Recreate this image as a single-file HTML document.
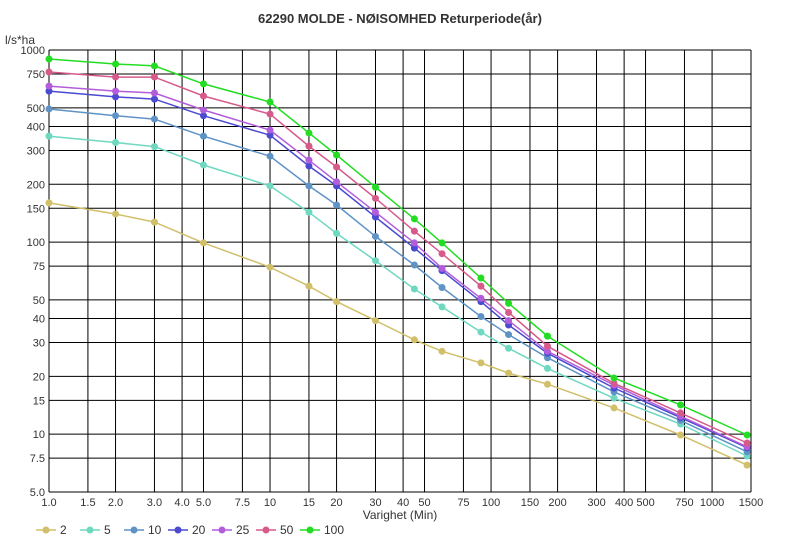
<!DOCTYPE html>
<html><head><meta charset="utf-8"><style>
body{margin:0;background:#fff;font-family:"Liberation Sans","DejaVu Sans",sans-serif;}
svg text{font-family:"Liberation Sans","DejaVu Sans",sans-serif;}
</style></head><body>
<svg id="chart" width="800" height="550" viewBox="0 0 800 550" xmlns="http://www.w3.org/2000/svg">
<rect width="800" height="550" fill="#fff"/>
<text x="400" y="23" text-anchor="middle" font-size="13" font-weight="600" fill="#333">62290 MOLDE - NØISOMHED Returperiode(år)</text>
<text x="5" y="44" font-size="12" fill="#333">l/s*ha</text>
<text x="400" y="519" text-anchor="middle" font-size="12" fill="#333">Varighet  (Min)</text>
<g id="grid"></g><g id="series"></g><g id="legend"></g>
</svg>
<script>
const xTicks=[1,1.5,2,3,4,5,7.5,10,15,20,30,40,50,75,100,150,200,300,400,500,750,1000,1500];
const xTickLabels=["1.0","1.5","2.0","3.0","4.0","5.0","7.5","10","15","20","30","40","50","75","100","150","200","300","400","500","750","1000","1500"];
const yTicks=[5,7.5,10,15,20,30,40,50,75,100,150,200,300,400,500,750,1000];
const yTickLabels=["5.0","7.5","10","15","20","30","40","50","75","100","150","200","300","400","500","750","1000"];
const durations=[1,2,3,5,10,15,20,30,45,60,90,120,180,360,720,1440];
const seriesNames=["2","5","10","20","25","50","100"];
const s2=[160,140,127,99,74,59,49,39,31,27,23.5,20.8,18.2,13.7,9.9,6.9];
const s5=[356,330,314,252,196,143,111,80,57,46,34,28,22,15.4,11.3,7.7];
const s10=[493,455,437,356,280,196,156,107,76,58,41,33,25,16.6,11.8,8.1];
const s20=[611,570,555,455,360,249,196,135,93,71,49,37,26.4,17.4,12.2,8.5];
const s25=[649,611,597,487,383,267,206,143,99,73,51,39,27,18,12.4,8.6];
const s50=[768,723,723,576,464,316,246,169,114,87,59,43,28.7,18.4,12.9,9.0];
const s100=[898,845,826,666,536,370,284,193,132,99,65,48,32.4,19.6,14.2,9.9];
const allSeries=[s2,s5,s10,s20,s25,s50,s100];
const colors=["#d1bf6a","#6fd8c0","#5f93c6","#4b4ad0","#b35ddb","#d65a8a","#22dd22"];
const NS="http://www.w3.org/2000/svg";
const X0=49,X1=751,Y0=50,Y1=492;
const xMin=1,xMax=1500,yMin=5,yMax=1000;
function xs(v){return X0+(Math.log10(v)-Math.log10(xMin))/(Math.log10(xMax)-Math.log10(xMin))*(X1-X0);}
function ys(v){return Y1-(Math.log10(v)-Math.log10(yMin))/(Math.log10(yMax)-Math.log10(yMin))*(Y1-Y0);}
function mk(t,a,p){const e=document.createElementNS(NS,t);for(const k in a)e.setAttribute(k,a[k]);p.appendChild(e);return e;}
const grid=document.getElementById('grid');
yTicks.forEach((v,i)=>{const y=ys(v);
 const l=mk('line',{x1:X0,x2:X1,y1:y,y2:y,stroke:'#000','stroke-width':1},grid);
 
 
 const t=mk('text',{x:X0-4,y:y+4,'text-anchor':'end','font-size':11,fill:'#333'},grid);t.textContent=yTickLabels[i];
 
 
});
xTicks.forEach((v,i)=>{const x=xs(v);
 const l=mk('line',{x1:x,x2:x,y1:Y0,y2:Y1,stroke:'#000','stroke-width':1},grid);
 
 
 const t=mk('text',{x:x,y:Y1+14,'text-anchor':'middle','font-size':11,fill:'#333'},grid);t.textContent=xTickLabels[i];
 
 
});
const sg=document.getElementById('series');
allSeries.forEach((vals,si)=>{
 const g=mk('g',{},sg);
 
 
 const pts=vals.map((v,i)=>xs(durations[i]).toFixed(1)+','+ys(v).toFixed(1)).join(' ');
 const pl=mk('polyline',{points:pts,fill:'none',stroke:colors[si],'stroke-width':1.5},g);
 
 
 vals.forEach((v,i)=>{const c=mk('circle',{cx:xs(durations[i]),cy:ys(v),r:3.5,fill:colors[si]},g);
  
  });
});
const lg=document.getElementById('legend');
const lx=[36,80,124,168,212,256,300];
seriesNames.forEach((n,i)=>{const x=lx[i],y=530;
 const g=mk('g',{},lg);
 
 
 mk('line',{x1:x,x2:x+20,y1:y,y2:y,stroke:colors[i],'stroke-width':1.5},g);
 mk('circle',{cx:x+10,cy:y,r:3.5,fill:colors[i]},g);
 const t=mk('text',{x:x+24,y:y+4,'font-size':12,fill:'#333'},g);t.textContent=n;
});
</script>
</body></html>
